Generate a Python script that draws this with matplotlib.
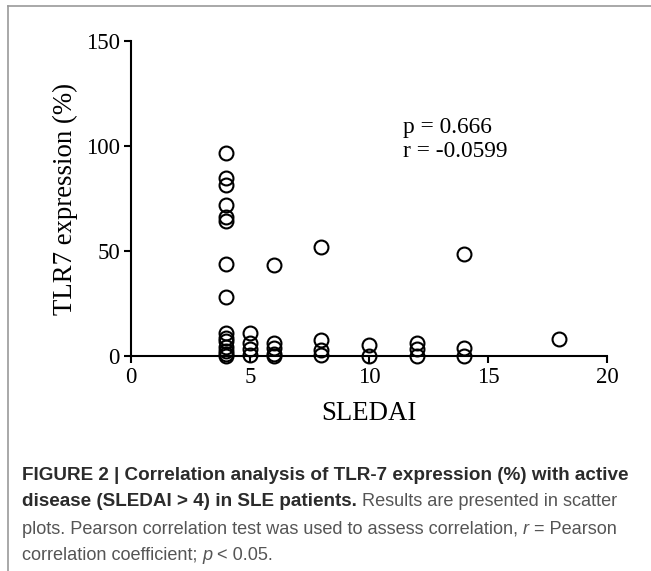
import matplotlib
matplotlib.use('Agg')
import matplotlib.pyplot as plt
from matplotlib.lines import Line2D
import numpy as np

# values (SLEDAI score -> TLR7 expression %)
sledai_4 = [96.8, 85.0, 81.4, 71.9, 66.0, 64.5, 43.7, 28.0, 10.8, 8.5, 7.0, 4.5, 2.5, 1.0, 0.0]
sledai_5 = [11.1, 6.0, 3.3, 0.5]
sledai_6 = [43.3, 6.3, 4.0, 1.0, 0.0]
sledai_8 = [52.0, 7.6, 3.0, 0.5]
sledai_10 = [5.2, 0.0]
sledai_12 = [6.3, 3.2, 0.0]
sledai_14 = [48.5, 3.7, 0.0]
sledai_18 = [8.0]

groups = {4: sledai_4, 5: sledai_5, 6: sledai_6, 8: sledai_8,
          10: sledai_10, 12: sledai_12, 14: sledai_14, 18: sledai_18}

x_ticks = [0, 5, 10, 15, 20]
y_ticks = [0, 50, 100, 150]
stats_text = ["p = 0.666", "r = -0.0599"]

serif = 'Liberation Serif'
sans = 'Liberation Sans'

fig = plt.figure(figsize=(6.51, 5.71), dpi=100, facecolor='w')
ax = fig.add_axes([0.2012, 0.3765, 0.7312, 0.5516])

xs = []
ys = []
for k, vals in groups.items():
    xs += [k] * len(vals)
    ys += vals
ax.plot(xs, ys, 'o', ms=10, mfc='none', mec='k', mew=1.5, clip_on=False, zorder=3)

ax.set_xlim(0, 20)
ax.set_ylim(0, 150)
ax.set_xticks(x_ticks)
ax.set_yticks(y_ticks)
for s in ['top', 'right']:
    ax.spines[s].set_visible(False)
for s in ['left', 'bottom']:
    ax.spines[s].set_linewidth(1.5)
ax.tick_params(direction='out', length=5, width=1.5, labelsize=16.5, pad=3)
for lab in ax.get_xticklabels() + ax.get_yticklabels():
    lab.set_fontfamily(serif)

ax.set_xlabel('SLEDAI', fontsize=19.3, fontfamily=serif, labelpad=9)
ax.set_ylabel('TLR7 expression (%)', fontsize=19.3, fontfamily=serif, labelpad=6)

ax.text(0.572, 0.727, stats_text[0], transform=ax.transAxes, fontsize=16.8, fontfamily=serif, va='center')
ax.text(0.572, 0.648, stats_text[1], transform=ax.transAxes, fontsize=16.8, fontfamily=serif, va='center')

# gray frame on left and top
fig.add_artist(Line2D([8/651, 8/651], [0, 1 - 6/571], transform=fig.transFigure, color='#9a9a9a', lw=1.2))
fig.add_artist(Line2D([8/651, 1], [1 - 6/571, 1 - 6/571], transform=fig.transFigure, color='#9a9a9a', lw=1.2))

# caption, built piece by piece so bold / italic runs sit side by side
dark = '#2b2b2b'
grey = '#555555'
bold_size = 13.6
reg_size = 13.1
lines = [
    [("FIGURE 2 | Correlation analysis of TLR-7 expression (%) with active", 'bold', 'normal', dark)],
    [("disease (SLEDAI > 4) in SLE patients.", 'bold', 'normal', dark),
     (" Results are presented in scatter", 'normal', 'normal', grey)],
    [("plots. Pearson correlation test was used to assess correlation, ", 'normal', 'normal', grey),
     ("r", 'normal', 'italic', grey),
     (" = Pearson", 'normal', 'normal', grey)],
    [("correlation coefficient; ", 'normal', 'normal', grey),
     ("p", 'normal', 'italic', grey),
     (" < 0.05.", 'normal', 'normal', grey)],
]
line_y = [475, 502, 529, 555]
for parts, yp in zip(lines, line_y):
    prev = None
    for txt, wt, st, col in parts:
        size = bold_size if wt == 'bold' else reg_size
        if prev is None:
            prev = fig.text(22/651, 1 - yp/571, txt, fontsize=size, fontfamily=sans,
                            fontweight=wt, fontstyle=st, color=col, va='center', ha='left')
        else:
            prev = ax.annotate(txt, xy=(1, 0), xycoords=prev, va='bottom', ha='left',
                               fontsize=size, fontfamily=sans, fontweight=wt,
                               fontstyle=st, color=col, annotation_clip=False)

fig.savefig('out.png', dpi=100)
